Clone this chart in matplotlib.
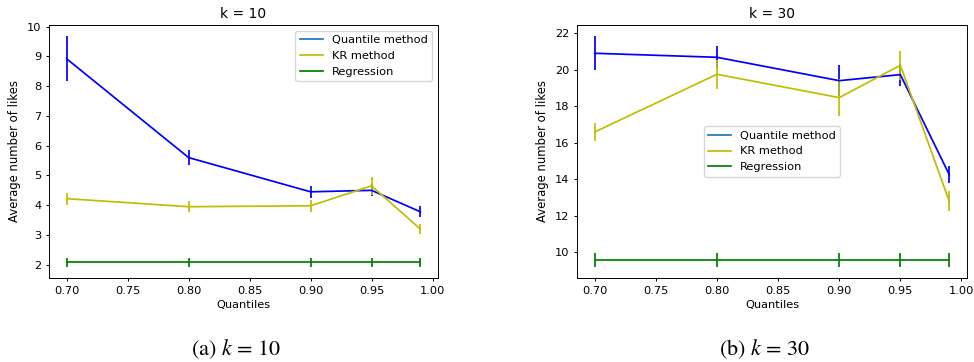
import matplotlib
matplotlib.use("Agg")
import matplotlib.pyplot as plt
from matplotlib.lines import Line2D

quantiles = [0.70, 0.80, 0.90, 0.95, 0.99]

# k = 10
q10 = [8.92, 5.60, 4.45, 4.50, 3.78]
q10_err = [0.75, 0.25, 0.2, 0.2, 0.18]
kr10 = [4.22, 3.95, 3.98, 4.65, 3.20]
kr10_err = [0.2, 0.18, 0.2, 0.3, 0.18]
reg10 = [2.08, 2.08, 2.08, 2.08, 2.08]
reg10_err = [0.14, 0.14, 0.14, 0.14, 0.14]

# k = 30
q30 = [20.89, 20.67, 19.39, 19.72, 14.24]
q30_err = [0.92, 0.6, 0.85, 0.6, 0.45]
kr30 = [16.58, 19.74, 18.46, 20.23, 12.78]
kr30_err = [0.5, 0.8, 1.0, 0.78, 0.55]
reg30 = [9.58, 9.58, 9.58, 9.58, 9.58]
reg30_err = [0.37, 0.37, 0.37, 0.37, 0.37]

labels = ["Quantile method", "KR method", "Regression"]
titles = ["k = 10", "k = 30"]
captions = ["(a) $k$ = 10", "(b) $k$ = 30"]

plt.rcParams['mathtext.fontset'] = 'stix'
fs = 8.2
lw = 1.25

fig = plt.figure(figsize=(9.74, 3.62), dpi=100)
positions = [[0.0503, 0.232, 0.3994, 0.699], [0.5924, 0.232, 0.4004, 0.699]]
caption_x = [236 / 974, 765 / 974]
datasets = [(q10, q10_err, kr10, kr10_err, reg10, reg10_err),
            (q30, q30_err, kr30, kr30_err, reg30, reg30_err)]
legend_locs = ['upper right', 'center']

for i in range(2):
    ax = fig.add_axes(positions[i])
    q, qe, kr, kre, rg, rge = datasets[i]
    ax.errorbar(quantiles, q, yerr=qe, color='b', lw=lw, elinewidth=lw)
    ax.errorbar(quantiles, kr, yerr=kre, color='y', lw=lw, elinewidth=lw)
    ax.errorbar(quantiles, rg, yerr=rge, color='g', lw=lw, elinewidth=lw)
    ax.set_title(titles[i], fontsize=10, pad=5)
    ax.set_xlabel("Quantiles", fontsize=fs, labelpad=3)
    ax.set_ylabel("Average number of likes", fontsize=8.4, labelpad=4)
    ax.tick_params(labelsize=fs, width=0.7, length=2.5, pad=3)
    for s in ax.spines.values():
        s.set_linewidth(0.7)
    handles = [Line2D([], [], color='C0', lw=lw),
               Line2D([], [], color='y', lw=lw),
               Line2D([], [], color='g', lw=lw)]
    ax.legend(handles, labels, loc=legend_locs[i], fontsize=fs)
    fig.text(caption_x[i], 0.036, captions[i], ha='center', va='center',
             fontsize=16, family='STIXGeneral')

fig.savefig("out.png", dpi=100)
